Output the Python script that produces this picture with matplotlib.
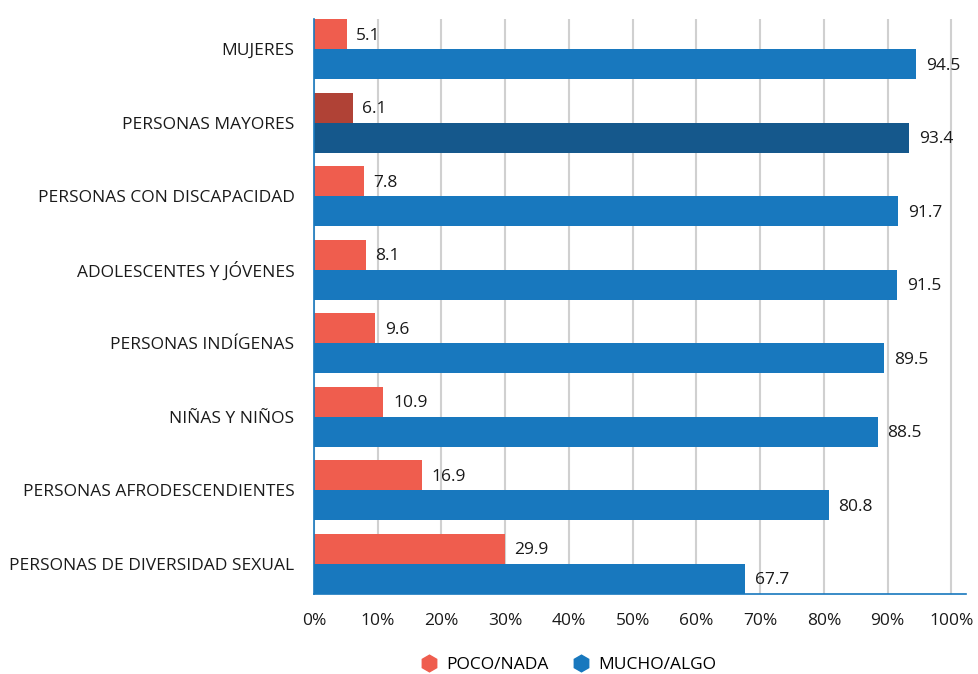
import matplotlib.pyplot as plt
from matplotlib.lines import Line2D
import numpy as np

plt.rcParams['font.family'] = ['Open Sans', 'DejaVu Sans']

# datos
categorias = ["MUJERES", "PERSONAS MAYORES", "PERSONAS CON DISCAPACIDAD",
              "ADOLESCENTES Y JÓVENES", "PERSONAS INDÍGENAS", "NIÑAS Y NIÑOS",
              "PERSONAS AFRODESCENDIENTES", "PERSONAS DE DIVERSIDAD SEXUAL"]
poco_nada = [5.1, 6.1, 7.8, 8.1, 9.6, 10.9, 16.9, 29.9]
mucho_algo = [94.5, 93.4, 91.7, 91.5, 89.5, 88.5, 80.8, 67.7]
resaltado = 1  # PERSONAS MAYORES
xticks = list(range(0, 101, 10))

naranja = "#EF5D4E"
azul = "#1878BE"
naranja_osc = "#B04236"
azul_osc = "#15588C"

fig = plt.figure(figsize=(9.79, 6.74), dpi=100)
ax = fig.add_axes([314 / 979, 1 - 594 / 674, (966 - 314) / 979, (594 - 19) / 674])

y = np.arange(len(categorias))
h = 0.41
col_p = [naranja_osc if i == resaltado else naranja for i in range(len(y))]
col_m = [azul_osc if i == resaltado else azul for i in range(len(y))]

ax.barh(y - h / 2, poco_nada, height=h, color=col_p, zorder=2)
ax.barh(y + h / 2, mucho_algo, height=h, color=col_m, zorder=2)

for i in range(len(y)):
    ax.text(poco_nada[i] + 1.5, y[i] - h / 2 + 0.02, f"{poco_nada[i]:.1f}", va="center",
            ha="left", fontsize=12.5, color="#1a1a1a")
    ax.text(mucho_algo[i] + 1.5, y[i] + h / 2 + 0.02, f"{mucho_algo[i]:.1f}", va="center",
            ha="left", fontsize=12.5, color="#1a1a1a")

ax.set_ylim(len(y) - 1 + h, -h)
ax.set_xlim(0, 102.3)
ax.set_yticks(y)
ax.set_yticklabels(categorias, fontsize=12.5, color="#1a1a1a")
ax.set_xticks(xticks)
ax.set_xticklabels([f"{t}%" for t in xticks], fontsize=12.5, color="#1a1a1a")
ax.tick_params(axis="both", length=0)
ax.tick_params(axis="y", pad=14)
ax.tick_params(axis="x", pad=14)

ax.grid(axis="x", color="#D0D0D0", linewidth=1.5, zorder=0)
ax.set_axisbelow(True)
for s in ["top", "right"]:
    ax.spines[s].set_visible(False)
ax.spines["left"].set_color(azul)
ax.spines["left"].set_linewidth(1.2)
ax.spines["bottom"].set_color(azul)
ax.spines["bottom"].set_linewidth(1.2)

handles = [Line2D([], [], marker="h", linestyle="", color=naranja, markersize=12),
           Line2D([], [], marker="h", linestyle="", color=azul, markersize=12)]
fig.legend(handles, ["POCO/NADA", "MUCHO/ALGO"], loc="center",
           bbox_to_anchor=(564 / 979, 1 - 665 / 674), ncol=2, frameon=False,
           fontsize=12.5, handletextpad=0.0, columnspacing=0.9)

plt.savefig("out.png", dpi=100)
plt.close()
